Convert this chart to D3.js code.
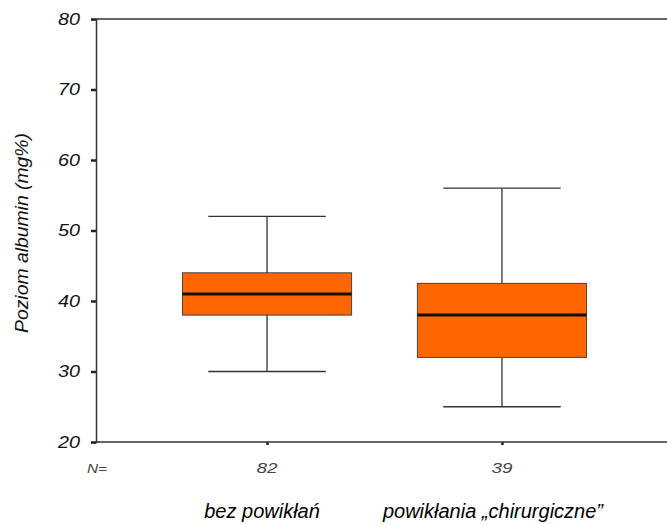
<!DOCTYPE html>
<html>
<head>
<meta charset="utf-8">
<script src="https://cdn.jsdelivr.net/npm/d3@7"></script>
<style>
  body { margin: 0; background: #fff; }
  text { font-family: "Liberation Sans", Arial, sans-serif; font-style: italic; }
</style>
</head>
<body>
<div class="canvas"></div>
<script>
// data
const categories = ['bez powikłań', 'powikłania „chirurgiczne”'];
const counts = [82, 39];
const whiskerLow = [30, 25];
const q1 = [38, 32];
const medians = [41, 38];
const q3 = [44, 42.5];
const whiskerHigh = [52, 56];
const yTicks = [20, 30, 40, 50, 60, 70, 80];

const width = 667, height = 524;
const margin = {top: 19, right: 0, bottom: 82, left: 96};
const graphHeight = height - margin.top - margin.bottom;

const svg = d3.select('.canvas')
  .append('svg')
    .attr('width', width)
    .attr('height', height);

const y = d3.scaleLinear()
  .domain([20, 80])
  .range([margin.top + graphHeight, margin.top]);

const x = d3.scalePoint()
  .domain(categories)
  .range([margin.left, 673])
  .padding(0.728);

const step = x.step();
const boxW = step * 0.72;
const capW = step * 0.5;

const boxes = categories.map((c, i) => ({
  cat: c, n: counts[i], lo: whiskerLow[i], q1: q1[i], med: medians[i], q3: q3[i], hi: whiskerHigh[i]
}));

// frame lines (top and bottom run to the edge)
svg.append('line')
  .attr('x1', margin.left).attr('x2', width)
  .attr('y1', y(80)).attr('y2', y(80))
  .attr('stroke', '#333').attr('stroke-width', 1.5);

// y axis
const yAxis = d3.axisLeft(y).tickValues(yTicks).tickSize(5).tickPadding(11);
const yAxisGroup = svg.append('g')
  .attr('transform', `translate(${margin.left},0)`)
  .call(yAxis);
yAxisGroup.select('.domain').attr('stroke', '#333').attr('stroke-width', 1.5);
yAxisGroup.selectAll('.tick line').attr('stroke', '#222').attr('stroke-width', 2.5);
yAxisGroup.selectAll('.tick text')
  .attr('font-size', 17).attr('fill', '#111')
  .attr('textLength', 22).attr('lengthAdjust', 'spacingAndGlyphs')
  .attr('font-family', '"Liberation Sans", Arial, sans-serif');

// x axis
const xAxis = d3.axisBottom(x).tickSize(3).tickFormat('');
const xAxisGroup = svg.append('g')
  .attr('transform', `translate(0,${y(20)})`)
  .call(xAxis);
xAxisGroup.select('.domain').remove();
xAxisGroup.selectAll('.tick line').attr('stroke', '#222').attr('stroke-width', 2.5);
svg.append('line')
  .attr('x1', margin.left).attr('x2', width)
  .attr('y1', y(20)).attr('y2', y(20))
  .attr('stroke', '#333').attr('stroke-width', 1.5);

// y label
svg.append('text')
  .attr('transform', `translate(28,233) rotate(-90)`)
  .attr('text-anchor', 'middle')
  .attr('font-size', 19)
  .attr('textLength', 200).attr('lengthAdjust', 'spacingAndGlyphs')
  .attr('fill', '#111')
  .text('Poziom albumin (mg%)');

// N counts
svg.append('text')
  .attr('x', 87).attr('y', 473)
  .attr('font-size', 13).attr('fill', '#444')
  .attr('textLength', 20).attr('lengthAdjust', 'spacingAndGlyphs')
  .text('N=');
svg.selectAll('.count')
  .data(boxes)
  .enter().append('text')
    .attr('class', 'count')
    .attr('x', d => x(d.cat))
    .attr('y', 473)
    .attr('text-anchor', 'middle')
    .attr('font-size', 14).attr('fill', '#444')
    .attr('textLength', 21).attr('lengthAdjust', 'spacingAndGlyphs')
    .text(d => d.n);

// category labels
const labelShift = [-5, -9];
svg.selectAll('.cat')
  .data(boxes)
  .enter().append('text')
    .attr('class', 'cat')
    .attr('x', (d, i) => x(d.cat) + labelShift[i])
    .attr('y', 518)
    .attr('text-anchor', 'middle')
    .attr('font-size', 20).attr('fill', '#000')
    .text(d => d.cat);

// boxplots
const g = svg.selectAll('.box')
  .data(boxes)
  .enter().append('g')
    .attr('class', 'box');

g.append('line')
  .attr('x1', d => x(d.cat)).attr('x2', d => x(d.cat))
  .attr('y1', d => y(d.lo)).attr('y2', d => y(d.hi))
  .attr('stroke', '#333').attr('stroke-width', 1.3);

g.append('line')
  .attr('x1', d => x(d.cat) - capW / 2).attr('x2', d => x(d.cat) + capW / 2)
  .attr('y1', d => y(d.hi)).attr('y2', d => y(d.hi))
  .attr('stroke', '#333').attr('stroke-width', 1.3);

g.append('line')
  .attr('x1', d => x(d.cat) - capW / 2).attr('x2', d => x(d.cat) + capW / 2)
  .attr('y1', d => y(d.lo)).attr('y2', d => y(d.lo))
  .attr('stroke', '#333').attr('stroke-width', 1.3);

g.append('rect')
  .attr('x', d => x(d.cat) - boxW / 2)
  .attr('width', boxW)
  .attr('y', d => y(d.q3))
  .attr('height', d => y(d.q1) - y(d.q3))
  .attr('fill', '#ff6600')
  .attr('stroke', '#444').attr('stroke-width', 1);

g.append('line')
  .attr('x1', d => x(d.cat) - boxW / 2).attr('x2', d => x(d.cat) + boxW / 2)
  .attr('y1', d => y(d.med)).attr('y2', d => y(d.med))
  .attr('stroke', '#111').attr('stroke-width', 3);
</script>
</body>
</html>
